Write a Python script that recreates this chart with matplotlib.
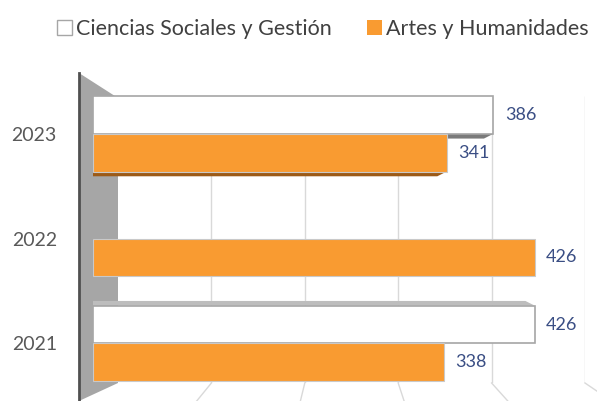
import numpy as np
import matplotlib
matplotlib.use("Agg")
import matplotlib.pyplot as plt
from matplotlib.patches import Patch, Polygon
from matplotlib.lines import Line2D

plt.rcParams['font.family'] = ['Lato', 'DejaVu Sans']

years = ["2021", "2022", "2023"]
ciencias = [426, np.nan, 386]      # Ciencias Sociales y Gestión (no bar in 2022)
artes = [338, 426, 341]            # Artes y Humanidades
grid_vals = [100, 200, 300, 400, 500]

c_white = "#ffffff"
c_orange = "#f99b31"
c_label = "#3a4e84"

W, H = 597, 401
fig = plt.figure(figsize=(W / 100, H / 100), dpi=100)

def fx(px):
    return px / W

def fy(py):
    return 1 - py / H

# back wall with the grid lines
back = fig.add_axes([fx(118), fy(383), fx(585) - fx(118), fy(96) - fy(383)])
back.set_xlim(0, 500)
back.set_ylim(0, 1)
back.axis("off")
back.vlines(grid_vals, 0, 1, color="#d9d9d9", lw=1)

# side wall
wall = Polygon([(fx(79), fy(73)), (fx(118), fy(98)), (fx(118), fy(383)), (fx(79), fy(401))],
               closed=True, facecolor="#a6a6a6", edgecolor="none", transform=fig.transFigure, zorder=1)
fig.patches.append(wall)
fig.lines.append(Line2D([fx(79), fx(79)], [fy(73), fy(401)], color="#505050", lw=2,
                        transform=fig.transFigure, zorder=2))

# front bars
ax = fig.add_axes([fx(93), 0, 1 - fx(93), 330 / H])
ax.patch.set_alpha(0)
ax.set_zorder(3)
y = np.arange(len(years))
h = 0.36
ax.barh(y + h / 2, ciencias, height=h, color=c_white, edgecolor="#a6a6a6", lw=1.2, zorder=3)
ax.barh(y - h / 2, artes, height=h, color=c_orange, edgecolor="#c9c9c9", lw=0.8, zorder=3)
ax.set_xlim(0, (W - 93) / 1.037)
ax.set_ylim(-0.55, 2.6)

# 3D depth faces: top faces below eye level, bottom faces above it
d = 0.045
dx = 9
for i in range(len(years)):
    for vals, off, top_c, bot_c in [(ciencias, h / 2, "#bdbdbd", "#7a7a7a"),
                                   (artes, -h / 2, "#d9822a", "#9c5a17")]:
        v = vals[i]
        if np.isnan(v):
            continue
        yc = y[i] + off
        if i == 0:
            yt = yc + h / 2
            ax.fill([0, v, v - dx, 0], [yt, yt, yt + d, yt + d], color=top_c, lw=0, zorder=2)
        elif i == 2:
            yb = yc - h / 2
            ax.fill([0, v, v - dx, 0], [yb, yb, yb - d, yb - d], color=bot_c, lw=0, zorder=2)

for i in range(len(years)):
    if not np.isnan(ciencias[i]):
        ax.text(ciencias[i] + 11, y[i] + h / 2, f"{ciencias[i]:.0f}", va="center", ha="left",
                fontsize=13, color=c_label)
    ax.text(artes[i] + 11, y[i] - h / 2, f"{artes[i]}", va="center", ha="left",
            fontsize=13, color=c_label)

ax.set_yticks(y)
ax.set_yticklabels(years, fontsize=14, color="#595959")
ax.tick_params(axis="y", length=0, pad=26)
ax.set_xticks([])
for s in ax.spines.values():
    s.set_visible(False)

# floor lines joining the back wall grid to the front
inv = fig.transFigure.inverted()
for v in grid_vals:
    bx, by = inv.transform(back.transData.transform((v, 0)))
    fxx, _ = inv.transform(ax.transData.transform((v, 0)))
    fig.lines.append(Line2D([bx, fxx], [by, 0], color="#d9d9d9", lw=1,
                            transform=fig.transFigure, zorder=0))

handles = [Patch(facecolor=c_white, edgecolor="#a6a6a6"),
           Patch(facecolor=c_orange, edgecolor="none")]
fig.legend(handles, ["Ciencias Sociales y Gestión", "Artes y Humanidades"],
           loc="center left", bbox_to_anchor=(fx(57), fy(29)), ncol=2, frameon=False,
           fontsize=15.5, labelcolor="#404040", handlelength=0.7, handleheight=0.7,
           handletextpad=0.2, columnspacing=1.6, borderpad=0, borderaxespad=0)

fig.savefig("out.png", dpi=100)
